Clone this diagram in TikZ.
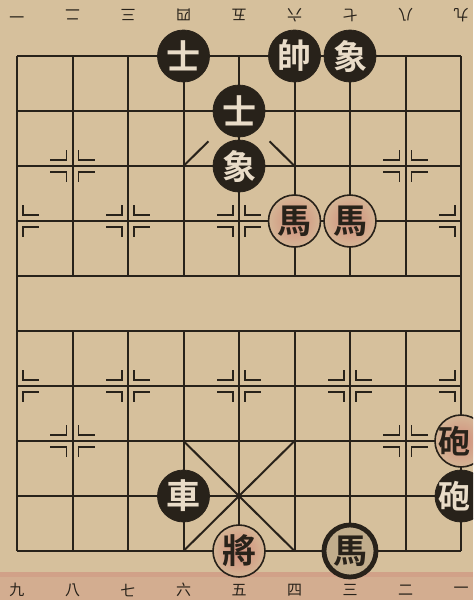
\documentclass[tikz,border=0pt]{standalone}
\usepackage{fontspec}
\newfontfamily\cjk{Noto Sans CJK TC}[BoldFont={Noto Sans CJK TC Bold}]
\usetikzlibrary{positioning}
\definecolor{paper}{RGB}{214,192,156}
\definecolor{ink}{RGB}{40,34,26}
\definecolor{rouge}{RGB}{208,140,122}
\tikzset{
  gridline/.style  = {ink, line width=1pt},
  markline/.style  = {ink, line width=0.8pt},
  piece/.style     = {circle, minimum size=26pt, inner sep=0pt,
                      font=\cjk\bfseries\fontsize{17}{17}\selectfont},
  blackpiece/.style = {piece, draw=ink, fill=ink, text=paper!55!white},
  redpiece/.style  = {piece, draw=ink, line width=0.8pt, text=ink,
                      inner color=rouge, outer color=paper!80!rouge},
  wornpiece/.style = {piece, draw=ink, line width=2.4pt, fill=paper!88!ink, text=ink},
  edgechar/.style  = {inner sep=0pt, xshift=-3.5pt,
                      font=\cjk\bfseries\fontsize{16}{16}\selectfont},
  numlbl/.style    = {font=\cjk\fontsize{7.5}{7.5}\selectfont, text=ink},
}
% station marks: #3 = which sides (-1 left, 1 right)
\newcommand{\stationmark}[3]{%
  \foreach \sx in {#3} {
    \foreach \sy in {-1,1} {
      \draw[markline] (#1+0.11*\sx, #2+0.29*\sy) -- (#1+0.11*\sx, #2+0.11*\sy)
        -- (#1+0.40*\sx, #2+0.11*\sy);
    }
  }
}

\begin{document}
\begin{tikzpicture}[x=27.75pt, y=-27.5pt]
  \useasboundingbox (-0.3063,-1.0182) rectangle (8.2162,9.8909);
  \clip (-0.3063,-1.0182) rectangle (8.2162,9.8909);
  \fill[paper] (-0.3063,-1.0182) rectangle (8.2162,9.8909);
  \fill[rouge, opacity=0.35] (-0.3063,9.38) rectangle (8.2162,9.8909);
  \fill[rouge, opacity=0.35] (-0.3063,9.38) rectangle (8.2162,9.47);

  % board
  \foreach \j in {0,...,9}
    \draw[gridline] (0,\j) -- (8,\j);
  \draw[gridline] (0,0) -- (0,9);
  \draw[gridline] (8,0) -- (8,9);
  \foreach \i in {1,...,7} {
    \draw[gridline] (\i,0) -- (\i,4);
    \draw[gridline] (\i,5) -- (\i,9);
  }
  % palaces
  \draw[gridline] (3,2) -- (3.45,1.55);
  \draw[gridline] (5,2) -- (4.55,1.55);
  \draw[gridline] (3,7) -- (5,9);
  \draw[gridline] (5,7) -- (3,9);

  % stations
  \stationmark{1}{2}{-1,1}
  \stationmark{7}{2}{-1,1}
  \stationmark{1}{7}{-1,1}
  \stationmark{7}{7}{-1,1}
  \foreach \j in {3,6} {
    \stationmark{0}{\j}{1}
    \stationmark{2}{\j}{-1,1}
    \stationmark{4}{\j}{-1,1}
    \stationmark{6}{\j}{-1,1}
    \stationmark{8}{\j}{-1}
  }

  % file numbers
  \foreach \n [count=\i from 0] in {一,二,三,四,五,六,七,八,九}
    \node[numlbl, rotate=180] (top\i) at (\i,-0.745) {\n};
  \foreach \n [count=\i from 0] in {九,八,七,六,五,四,三,二,一}
    \node[numlbl] (bot\i) at (\i,9.71) {\n};

  % black pieces
  \node[blackpiece] (shiA)   at (3,0) {士};
  \node[blackpiece] (shuai)  at (5,0) {帥};
  \node[blackpiece] (xiangA) at (6,0) {象};
  \node[blackpiece] (shiB)   at (4,1) {士};
  \node[blackpiece] (xiangB) at (4,2) {象};
  \node[blackpiece] (che)    at (3,8) {車};
  \node[blackpiece] (paoB)   at (8,8) {};
  \node[edgechar, text=paper!55!white] (paoBtxt) at (paoB) {砲};
  \node[wornpiece]  (maB)    at (6,9) {馬};
  % red pieces
  \node[redpiece] (maA)   at (5,3) {馬};
  \node[redpiece] (maC)   at (6,3) {馬};
  \node[redpiece] (paoA)  at (8,7) {};
  \node[edgechar, text=ink] (paoAtxt) at (paoA) {砲};
  \node[redpiece] (jiang) at (4,9) {將};
\end{tikzpicture}
\end{document}
